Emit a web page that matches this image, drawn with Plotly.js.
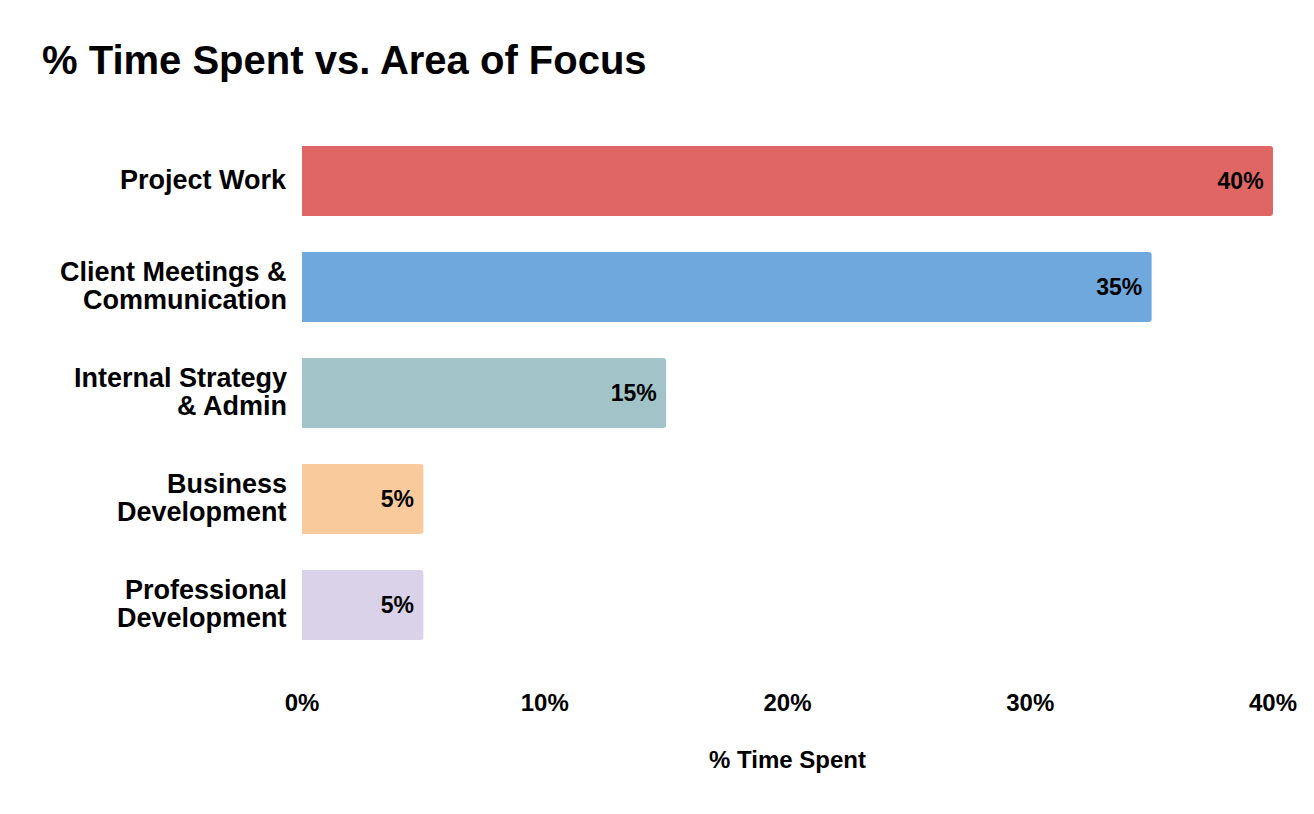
<!DOCTYPE html>
<html>
<head>
<meta charset="utf-8">
<script src="https://cdn.plot.ly/plotly-3.0.1.min.js"></script>
<style>html,body{margin:0;padding:0;background:#fff;}#chart{width:1314px;height:814px;}</style>
</head>
<body>
<div id="chart"></div>
<script>
const categories = ["Project Work", "Client Meetings &<br>Communication", "Internal Strategy<br>& Admin", "Business<br>Development", "Professional<br>Development"];
const values = [40, 35, 15, 5, 5];
const labels = ["40%", "35%", "15%", "5%", "5%"];
const colors = ["#E06666", "#6FA8DC", "#A2C4C9", "#F9CB9C", "#D9D2E9"];
const tickVals = [0, 10, 20, 30, 40];
const tickText = ["0%", "10%", "20%", "30%", "40%"];

const font = "Liberation Sans, Arial, sans-serif";

// category labels drawn as annotations so multi-line spacing can match
const annotations = [];
categories.forEach(function (cat) {
  const lines = cat.split("<br>");
  const n = lines.length;
  lines.forEach(function (ln, i) {
    annotations.push({
      text: ln, x: 0, xref: "paper", y: cat, yref: "y",
      xanchor: "right", yanchor: "middle", xshift: -13,
      yshift: ((n - 1) / 2 - i) * 28 + 1,
      showarrow: false,
      font: {family: font, size: 27, color: "#000", weight: "bold"}
    });
  });
});

Plotly.newPlot("chart", [{
  type: "bar",
  orientation: "h",
  x: values,
  y: categories,
  text: labels,
  texttemplate: "%{text}\u00a0",
  textposition: "inside",
  insidetextanchor: "end",
  textfont: {family: font, size: 23, color: "#000", weight: "bold"},
  marker: {color: colors, line: {width: 0}},
  hoverinfo: "none"
}], {
  width: 1314, height: 814,
  paper_bgcolor: "#fff", plot_bgcolor: "#fff",
  margin: {l: 302, r: 41, t: 128, b: 156},
  bargap: 0.34,
  barcornerradius: 3,
  showlegend: false,
  annotations: annotations,
  title: {text: "% Time Spent vs. Area of Focus", x: 42 / 1314, xref: "container", xanchor: "left",
          y: 1 - 60 / 814, yref: "container", yanchor: "middle",
          font: {family: font, size: 40, color: "#000", weight: "bold"}},
  xaxis: {
    range: [0, 40], tickvals: tickVals, ticktext: tickText,
    showgrid: false, zeroline: false, showline: false, ticks: "",
    ticklabelstandoff: 28,
    tickfont: {family: font, size: 24, color: "#000", weight: "bold"},
    title: {text: "% Time Spent", standoff: 36, font: {family: font, size: 24, color: "#000", weight: "bold"}},
    fixedrange: true
  },
  yaxis: {
    autorange: "reversed", showgrid: false, zeroline: false, showline: false, ticks: "",
    showticklabels: false,
    fixedrange: true
  }
}, {displayModeBar: false, staticPlot: true});
</script>
</body>
</html>
